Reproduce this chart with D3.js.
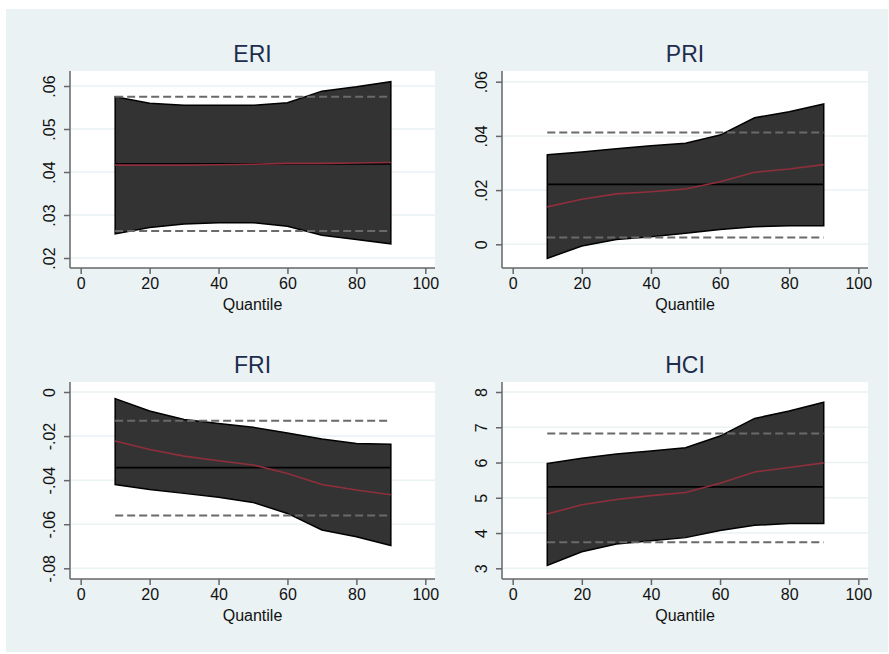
<!DOCTYPE html>
<meta charset="utf-8">
<head>
<style>
body { margin: 0; background: #fff; font-family: "Liberation Sans", Arial, sans-serif; }
.axis path, .axis line { stroke: #666; stroke-width: 1.5px; fill: none; }
.band { fill: #333; stroke: #000; stroke-width: 1.5px; }
.dash { stroke: #6a6a6a; stroke-width: 2px; stroke-dasharray: 8,4; fill: none; }
.ols { stroke: #000; stroke-width: 1.6px; fill: none; }
.qr { stroke: #902f3c; stroke-width: 1.6px; fill: none; }
.grid { stroke: #eaf2f3; stroke-width: 1.5px; }
</style>
<script src="https://d3js.org/d3.v7.min.js"></script>
</head>
<body>
<div id="chart"></div>
<script>

// quantile grid
var quantiles = [10, 20, 30, 40, 50, 60, 70, 80, 90];
var xTicks = [0, 20, 40, 60, 80, 100];

// ERI
var eriUpper = [.0575, .0560, .0555, .0555, .0555, .0561, .0588, .0598, .0610];
var eriLower = [.0256, .0271, .0279, .0282, .0282, .0274, .0253, .0243, .0233];
var eriQr    = [.0416, .0416, .0416, .0417, .0418, .0420, .0420, .0421, .0422];
var eriOls   = [.0419, .0575, .0263];   // estimate, upper, lower
var eriTicks = [.02, .03, .04, .05, .06];
var eriLabels = [".02", ".03", ".04", ".05", ".06"];

// PRI
var priUpper = [.0330, .0341, .0353, .0364, .0373, .0403, .0467, .0489, .0518];
var priLower = [-.0052, -.0006, .0018, .0028, .0041, .0055, .0065, .0068, .0068];
var priQr    = [.0138, .0166, .0186, .0194, .0204, .0231, .0266, .0278, .0294];
var priOls   = [.0221, .0413, .0025];
var priTicks = [0, .02, .04, .06];
var priLabels = ["0", ".02", ".04", ".06"];

// FRI
var friUpper = [-.0030, -.0086, -.0125, -.0143, -.0160, -.0186, -.0213, -.0234, -.0237];
var friLower = [-.0420, -.0442, -.0460, -.0478, -.0501, -.0551, -.0626, -.0657, -.0697];
var friQr    = [-.0222, -.0261, -.0291, -.0312, -.0331, -.0370, -.0420, -.0445, -.0466];
var friOls   = [-.0343, -.0131, -.0560];
var friTicks = [-.08, -.06, -.04, -.02, 0];
var friLabels = ["-.08", "-.06", "-.04", "-.02", "0"];

// HCI
var hciUpper = [5.97, 6.12, 6.24, 6.33, 6.42, 6.75, 7.25, 7.46, 7.71];
var hciLower = [3.08, 3.47, 3.69, 3.78, 3.87, 4.07, 4.22, 4.27, 4.27];
var hciQr    = [4.54, 4.80, 4.95, 5.06, 5.15, 5.41, 5.73, 5.86, 5.99];
var hciOls   = [5.31, 6.82, 3.74];
var hciTicks = [3, 4, 5, 6, 7, 8];
var hciLabels = ["3", "4", "5", "6", "7", "8"];


var width = 889, height = 654;

var svg = d3.select("#chart").append("svg")
  .attr("width", width)
  .attr("height", height);

svg.append("rect")
  .attr("x", 6).attr("y", 9)
  .attr("width", 882).attr("height", 643)
  .attr("fill", "#eaf2f3");

var panels = [
  {title: "ERI", upper: eriUpper, lower: eriLower, qr: eriQr, ols: eriOls, ticks: eriTicks, labels: eriLabels,
   left: 70, right: 435, top: 71, bottom: 268, padT: 15, padB: 10},
  {title: "PRI", upper: priUpper, lower: priLower, qr: priQr, ols: priOls, ticks: priTicks, labels: priLabels,
   left: 502, right: 868, top: 71, bottom: 268, padT: 10.7, padB: 23.7},
  {title: "FRI", upper: friUpper, lower: friLower, qr: friQr, ols: friOls, ticks: friTicks, labels: friLabels,
   left: 70, right: 435, top: 382, bottom: 579, padT: 10, padB: 10.7},
  {title: "HCI", upper: hciUpper, lower: hciLower, qr: hciQr, ols: hciOls, ticks: hciTicks, labels: hciLabels,
   left: 502, right: 868, top: 382, bottom: 579, padT: 10, padB: 10.7}
];

panels.forEach(function(p) {

  var x = d3.scaleLinear()
    .domain([0, 100])
    .range([p.left + 10.7, p.right - 9.7]);

  var y = d3.scaleLinear()
    .domain(d3.extent(p.ticks))
    .range([p.bottom - p.padB, p.top + p.padT]);

  var g = svg.append("g");

  // plot region
  g.append("rect")
    .attr("x", p.left).attr("y", p.top)
    .attr("width", p.right - p.left).attr("height", p.bottom - p.top)
    .attr("fill", "#fff");

  g.selectAll(".grid")
    .data(p.ticks)
    .enter().append("line")
      .attr("class", "grid")
      .attr("x1", p.left).attr("x2", p.right)
      .attr("y1", function(d) { return y(d); })
      .attr("y2", function(d) { return y(d); });

  var rows = quantiles.map(function(q, i) {
    return {q: q, hi: p.upper[i], lo: p.lower[i], qr: p.qr[i]};
  });

  ////confidence band of quantile estimates
  var area = d3.area()
    .x(function(d) { return x(d.q); })
    .y0(function(d) { return y(d.lo); })
    .y1(function(d) { return y(d.hi); });
  g.append("path")
    .datum(rows)
    .attr("class", "band")
    .attr("d", area);

  ////OLS estimate and its bounds
  var qMin = d3.min(quantiles), qMax = d3.max(quantiles);
  g.selectAll(".dash")
    .data([p.ols[1], p.ols[2]])
    .enter().append("line")
      .attr("class", "dash")
      .attr("x1", x(qMin)).attr("x2", x(qMax))
      .attr("y1", function(d) { return y(d); })
      .attr("y2", function(d) { return y(d); });

  g.append("line")
    .attr("class", "ols")
    .attr("x1", x(qMin)).attr("x2", x(qMax))
    .attr("y1", y(p.ols[0])).attr("y2", y(p.ols[0]));

  var line = d3.line()
    .x(function(d) { return x(d.q); })
    .y(function(d) { return y(d.qr); });
  g.append("path")
    .datum(rows)
    .attr("class", "qr")
    .attr("d", line);

  ////axes
  var xAxis = g.append("g")
    .attr("class", "axis")
    .attr("transform", "translate(0," + p.bottom + ")")
    .call(d3.axisBottom(x).tickValues(xTicks).tickSize(6).tickSizeOuter(0).tickPadding(4));
  xAxis.select(".domain").attr("d", "M" + p.left + ",0H" + p.right);
  xAxis.selectAll("text")
    .attr("fill", "#111")
    .style("font-size", "16px")
    .style("font-family", "'Liberation Sans', Arial, sans-serif");

  var yAxis = g.append("g")
    .attr("class", "axis")
    .attr("transform", "translate(" + p.left + ",0)")
    .call(d3.axisLeft(y).tickValues(p.ticks).tickSize(6).tickSizeOuter(0)
      .tickFormat(function(d, i) { return p.labels[i]; }));
  yAxis.select(".domain").attr("d", "M0," + p.top + "V" + p.bottom);
  yAxis.selectAll("text")
    .attr("x", null).attr("dy", null)
    .attr("text-anchor", "middle")
    .attr("transform", "translate(-15,0) rotate(-90)")
    .attr("fill", "#111")
    .style("font-size", "16px")
    .style("font-family", "'Liberation Sans', Arial, sans-serif");

  g.append("text")
    .attr("x", (p.left + p.right) / 2)
    .attr("y", p.bottom + 42)
    .attr("text-anchor", "middle")
    .attr("fill", "#111")
    .style("font-size", "16px")
    .text("Quantile");

  g.append("text")
    .attr("x", (p.left + p.right) / 2)
    .attr("y", p.top - 9)
    .attr("text-anchor", "middle")
    .attr("fill", "#1e2d4e")
    .style("font-size", "23px")
    .text(p.title);
});

</script>
</body>
</html>
